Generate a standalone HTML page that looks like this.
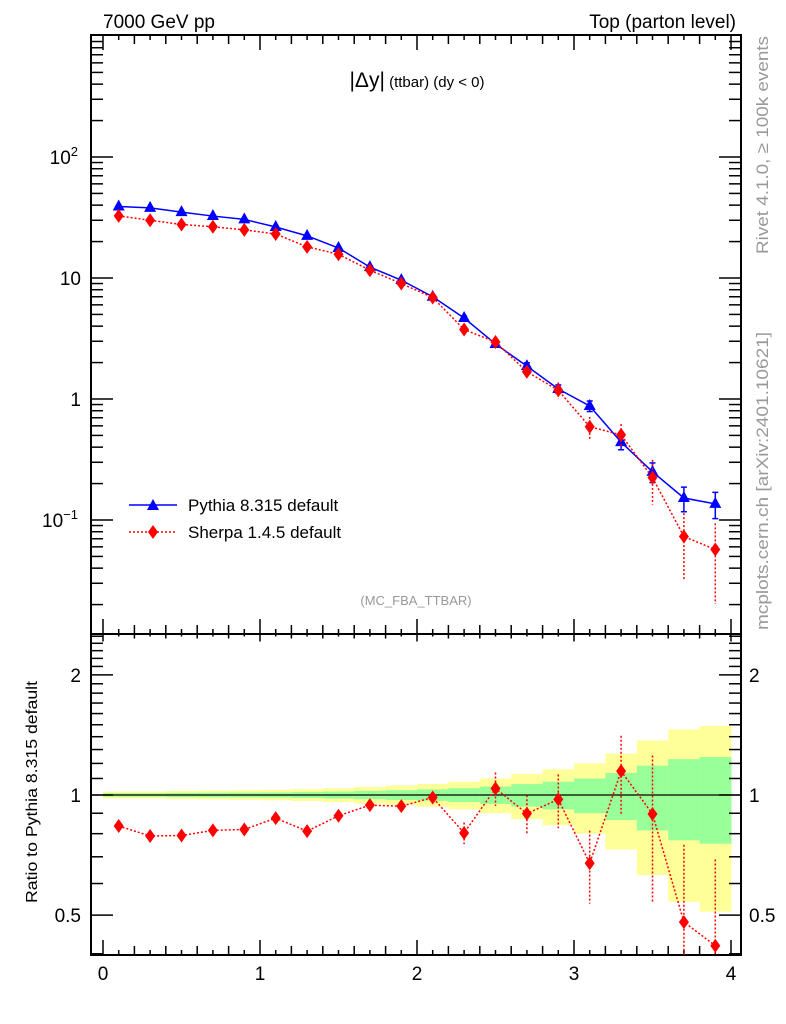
<!DOCTYPE html>
<html><head><meta charset="utf-8"><style>
body{margin:0;background:#fff}
svg{display:block;font-family:"Liberation Sans",sans-serif}
</style></head><body>
<svg id="c" width="786" height="1024" viewBox="0 0 786 1024">
<g id="bands"></g>
<g id="axes"></g>
<g id="series"></g>
<text x="103" y="28" font-size="19">7000 GeV pp</text>
<text x="736" y="28" font-size="19" text-anchor="end">Top (parton level)</text>
<text x="417" y="87" font-size="15" text-anchor="middle"><tspan font-size="21">|Δy|</tspan> (ttbar) (dy &lt; 0)</text>
<text x="416" y="605" font-size="13" fill="#999" text-anchor="middle">(MC_FBA_TTBAR)</text>
<text transform="translate(768,145) rotate(-90)" font-size="17" fill="#999" text-anchor="middle" textLength="218" lengthAdjust="spacingAndGlyphs">Rivet 4.1.0, ≥ 100k events</text>
<text transform="translate(768,481) rotate(-90)" font-size="17" fill="#999" text-anchor="middle" textLength="298" lengthAdjust="spacingAndGlyphs">mcplots.cern.ch [arXiv:2401.10621]</text>
<text transform="translate(37,792) rotate(-90)" font-size="16" text-anchor="middle" textLength="222" lengthAdjust="spacingAndGlyphs">Ratio to Pythia 8.315 default</text>
<g>
<line x1="129" y1="505" x2="177" y2="505" stroke="#00f" stroke-width="1.5"/>
<polygon points="153,499 159,510 147,510" fill="#00f"/>
<text x="188" y="511" font-size="17">Pythia 8.315 default</text>
<line x1="129" y1="532" x2="177" y2="532" stroke="#f00" stroke-width="1.5" stroke-dasharray="2,2"/>
<polygon points="153,525 158,532 153,539 148,532" fill="#f00"/>
<text x="188" y="538" font-size="17">Sherpa 1.4.5 default</text>
</g>
</svg>
<script>
const xCenters=[0.1,0.3,0.5,0.7,0.9,1.1,1.3,1.5,1.7,1.9,2.1,2.3,2.5,2.7,2.9,3.1,3.3,3.5,3.7,3.9];
const pythiaVals=[39,38,35,32.5,30.5,26.4,22.3,17.7,12.3,9.6,7.0,4.67,2.85,1.87,1.21,0.875,0.44,0.25,0.152,0.136];
const pythiaRelErr=[0.01,0.01,0.012,0.013,0.014,0.015,0.017,0.02,0.024,0.028,0.033,0.04,0.05,0.065,0.08,0.1,0.135,0.185,0.23,0.245];
const sherpaVals=[32.6,30,27.7,26.5,25,23.1,18.1,15.7,11.6,9.0,6.9,3.75,2.96,1.68,1.18,0.59,0.505,0.224,0.073,0.057];
const sherpaRatioErr=[0.015,0.015,0.015,0.015,0.015,0.02,0.02,0.025,0.025,0.025,0.03,0.05,0.1,0.1,0.15,0.14,0.26,0.36,0.27,0.27];
const mainTickLabels=[[100,"10","2"],[10,"10",""],[1,"1",""],[0.1,"10","−1"]];
const ratioTickLabels=[[2,"2"],[1,"1"],[0.5,"0.5"]];
const xTickLabels=[0,1,2,3,4];

const L=91,R=741,T=35,M=634,B=955;
const X=v=>103+157*v;
const YM=v=>399-121*Math.log10(v);
const YR=r=>795-399*Math.log10(r);
const NS="http://www.w3.org/2000/svg";
function mk(tag,parent,at){const e=document.createElementNS(NS,tag);for(const k in at)e.setAttribute(k,at[k]);parent.appendChild(e);return e;}
const axes=document.getElementById('axes'),bands=document.getElementById('bands'),ser=document.getElementById('series');

xCenters.forEach((x,i)=>{const e=pythiaRelErr[i];
 const y=mk('rect',bands,{x:X(x-0.1),width:157*0.2+0.5,y:YR(1+2*e),height:YR(Math.max(1-2*e,0.3))-YR(1+2*e),fill:'#ffff99'});
 
 const g=mk('rect',bands,{x:X(x-0.1),width:157*0.2+0.5,y:YR(1+e),height:YR(1-e)-YR(1+e),fill:'#99ff99'});
 
});
const one=mk('line',axes,{x1:L,x2:R,y1:YR(1),y2:YR(1),stroke:'#000','stroke-width':1.2});


[[T,M],[M,B]].forEach(([a,b])=>{const f=mk('rect',axes,{x:L,y:a,width:R-L,height:b-a,fill:'none',stroke:'#000','stroke-width':2});
 });
for(let k=0;k<=40;k++){const v=k/10,x=X(v);if(x>R)break;
 const len=k%10==0?15:(k%2==0?9:5);
 mk('line',axes,{x1:x,x2:x,y1:T,y2:T+len,stroke:'#000','stroke-width':1.5});
 mk('line',axes,{x1:x,x2:x,y1:M-len,y2:M+len*0.5,stroke:'#000','stroke-width':1.5});
 mk('line',axes,{x1:x,x2:x,y1:B,y2:B-len,stroke:'#000','stroke-width':1.5});}
xTickLabels.forEach(v=>{const t=mk('text',axes,{x:X(v),y:980,'font-size':19,'text-anchor':'middle'});t.textContent=v;
 });
for(let d=-2;d<=2;d++)for(let m=1;m<10;m++){const v=m*Math.pow(10,d),y=YM(v);if(y<T||y>M)continue;
 const len=m==1?22:12;
 mk('line',axes,{x1:L,x2:L+len,y1:y,y2:y,stroke:'#000','stroke-width':1.5});
 mk('line',axes,{x1:R,x2:R-len,y1:y,y2:y,stroke:'#000','stroke-width':1.5});}
mainTickLabels.forEach(([v,b,e])=>{const t=mk('text',axes,{x:e?78:81,y:YM(v)+7,'font-size':19,'text-anchor':'end'});
 t.textContent=b;if(e){const s=mk('tspan',t,{dy:-8,'font-size':13});s.textContent=e;}
 });
for(let k=4;k<=25;k++){const v=k/10,y=YR(v);if(y<M||y>B)continue;
 const len=(k==10||k==20||k==5)?22:12;
 mk('line',axes,{x1:L,x2:L+len,y1:y,y2:y,stroke:'#000','stroke-width':1.5});
 mk('line',axes,{x1:R,x2:R-len,y1:y,y2:y,stroke:'#000','stroke-width':1.5});}
ratioTickLabels.forEach(([v,s])=>{[81,749].forEach((x,j)=>{const t=mk('text',axes,{x:x,y:YR(v)+7,'font-size':19,'text-anchor':j?'start':'end'});t.textContent=s;
 });});

function clampY(y,a,b){return Math.max(a,Math.min(b,y));}
function series(vals,errs,rel,yf,color,dash,marker,name,top,bot){
 const pts=xCenters.map((x,i)=>X(x)+','+yf(vals[i])).join(' ');
 const pl=mk('polyline',ser,{points:pts,fill:'none',stroke:color,'stroke-width':1.5});
 if(dash)pl.setAttribute('stroke-dasharray','2,2');
 
 xCenters.forEach((x,i)=>{const v=vals[i],e=rel?v*errs[i]:errs[i];
  const y1=clampY(yf(v+e),top,bot),y2=clampY(v-e>0?yf(v-e):bot,top,bot),cx=X(x);
  const el=mk('line',ser,{x1:cx,x2:cx,y1:y1,y2:y2,stroke:color,'stroke-width':1.5});
  if(dash)el.setAttribute('stroke-dasharray','2,2');
  
  if(!dash){mk('line',ser,{x1:cx-3,x2:cx+3,y1:y1,y2:y1,stroke:color,'stroke-width':1.5});mk('line',ser,{x1:cx-3,x2:cx+3,y1:y2,y2:y2,stroke:color,'stroke-width':1.5});}
  const y=yf(v);let p;
  if(marker=='tri')p=mk('polygon',ser,{points:`${cx},${y-7} ${cx+6},${y+4} ${cx-6},${y+4}`,fill:color});
  else p=mk('polygon',ser,{points:`${cx},${y-7} ${cx+5},${y} ${cx},${y+7} ${cx-5},${y}`,fill:color});
  
 });
}
series(pythiaVals,pythiaRelErr,true,YM,'#00f',false,'tri','pythia',T,M);
series(sherpaVals,sherpaRatioErr.map((e,i)=>e/(sherpaVals[i]/pythiaVals[i])),true,YM,'#f00',true,'dia','sherpa',T,M);
const ratio=sherpaVals.map((v,i)=>v/pythiaVals[i]);
series(ratio,sherpaRatioErr,false,YR,'#f00',true,'dia','sherpa-ratio',M,B);
</script>
</body></html>
